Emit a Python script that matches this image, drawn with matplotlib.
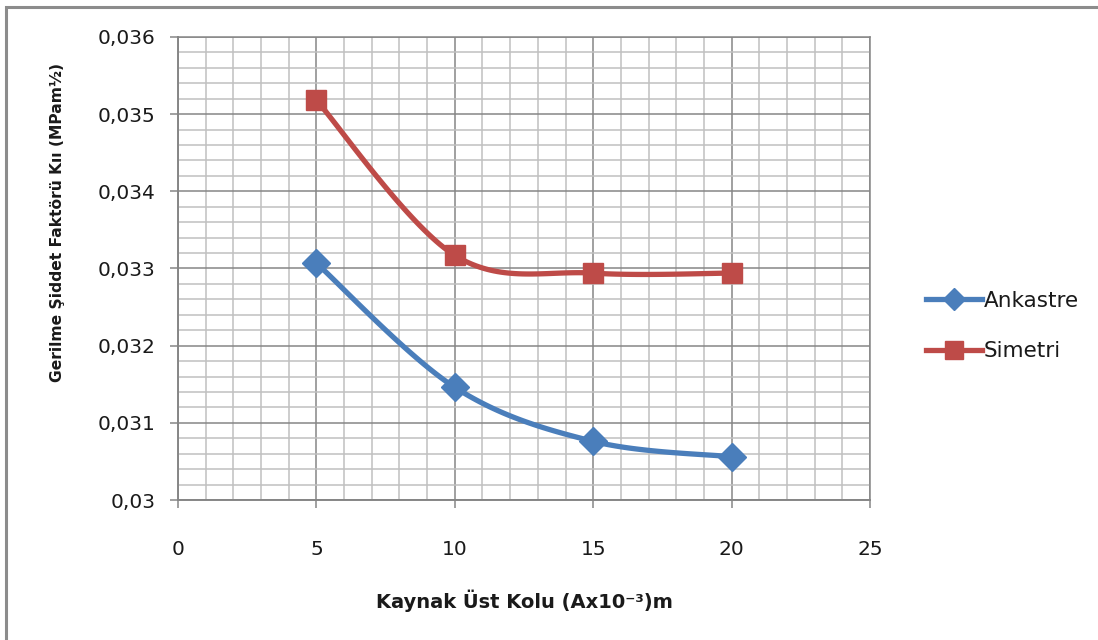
import numpy as np
import matplotlib
matplotlib.use("Agg")
import matplotlib.pyplot as plt
from matplotlib.ticker import MultipleLocator, FuncFormatter
from matplotlib.lines import Line2D
from matplotlib.patches import Rectangle

plt.rcParams['font.family'] = ['DejaVu Sans']

# Data
x_vals = [5, 10, 15, 20]
ankastre = [0.03307, 0.03146, 0.03076, 0.03056]
simetri = [0.03518, 0.03317, 0.03294, 0.03294]
series_names = ["Ankastre", "Simetri"]
x_ticks = [0, 5, 10, 15, 20, 25]
y_ticks = [0.030, 0.031, 0.032, 0.033, 0.034, 0.035, 0.036]

blue = "#4A7EBB"
red = "#BE4B48"
text_col = "#1a1a1a"


def smooth(xs, ys, n=40):
    """Bezier smoothing through the points (Catmull-Rom style, tension 1/6)."""
    p = np.column_stack([xs, ys]).astype(float)
    ext = np.vstack([p[0], p, p[-1]])
    out = []
    t = np.linspace(0, 1, n)[:, None]
    for i in range(len(p) - 1):
        p0 = ext[i + 1]
        p3 = ext[i + 2]
        c1 = p0 + (ext[i + 2] - ext[i]) / 6.0
        c2 = p3 - (ext[i + 3] - ext[i + 1]) / 6.0
        seg = ((1 - t) ** 3) * p0 + 3 * ((1 - t) ** 2) * t * c1 + 3 * (1 - t) * t ** 2 * c2 + t ** 3 * p3
        out.append(seg if i == 0 else seg[1:])
    out = np.vstack(out)
    return out[:, 0], out[:, 1]


def ytick_fmt(v, pos):
    s = f"{v:.3f}".rstrip('0')
    return s.replace('.', ',')


fig = plt.figure(figsize=(10.98, 6.40), dpi=100)
ax = fig.add_axes([178 / 1098, 140 / 640, 692 / 1098, 463 / 640])

ax.set_xlim(0, 25)
ax.set_ylim(0.030, 0.036)

# Smooth in display-like proportions
yscale = (463 / 0.006) / (692 / 25)
for ys, col, mk, ms in [(ankastre, blue, 'D', 14.5), (simetri, red, 's', 15)]:
    sx, sy = smooth(x_vals, np.array(ys) * yscale)
    ax.plot(sx, sy / yscale, color=col, lw=3.8, solid_capstyle='round', zorder=3)
    ax.plot(x_vals, ys, linestyle='none', marker=mk, ms=ms, color=col, zorder=4)

ax.set_xticks(x_ticks)
ax.set_yticks(y_ticks)
ax.xaxis.set_minor_locator(MultipleLocator(1))
ax.yaxis.set_minor_locator(MultipleLocator(0.0002))
ax.xaxis.set_major_formatter(FuncFormatter(lambda v, p: f"{v:g}"))
ax.yaxis.set_major_formatter(FuncFormatter(ytick_fmt))

ax.grid(which='major', color='#868686', lw=1.1, zorder=1)
ax.grid(which='minor', color='#c0c0c0', lw=1.1, zorder=0)
ax.set_axisbelow(True)

ax.tick_params(which='major', length=6, width=1.1, color='#868686', labelsize=14.5,
               labelcolor=text_col)
ax.tick_params(axis='y', which='major', pad=10)
ax.tick_params(axis='x', which='major', pad=23)
ax.tick_params(which='minor', length=0)

for s in ['top', 'right']:
    ax.spines[s].set_color('#868686')
    ax.spines[s].set_linewidth(1.1)
for s in ['left', 'bottom']:
    ax.spines[s].set_color('#868686')
    ax.spines[s].set_linewidth(1.4)

ax.set_xlabel("Kaynak Üst Kolu (Ax10⁻³)m", fontsize=14, fontweight='bold',
              color=text_col, labelpad=22)
ax.set_ylabel("Gerilme Şiddet Faktörü Kıı (MPam½)", fontsize=11.2, fontweight='bold',
              color=text_col)
ax.yaxis.set_label_coords(-0.163, 0.60)

handles = [
    Line2D([], [], color=blue, lw=3.8, marker='D', ms=11.5),
    Line2D([], [], color=red, lw=3.8, marker='s', ms=13),
]
fig.legend(handles, series_names, loc='center left', bbox_to_anchor=(907 / 1098, 1 - 326 / 640),
           frameon=False, fontsize=15.5, handlelength=2.6, handletextpad=0.05,
           labelspacing=1.4, labelcolor=text_col)

# Outer chart frame
fig.patches.append(Rectangle((6 / 1098, -0.1), 1.2, 1 - 7 / 640 + 0.1, transform=fig.transFigure,
                             fill=False, edgecolor='#8c8c8c', lw=2.2, zorder=0))

fig.savefig("out.png", dpi=100)
